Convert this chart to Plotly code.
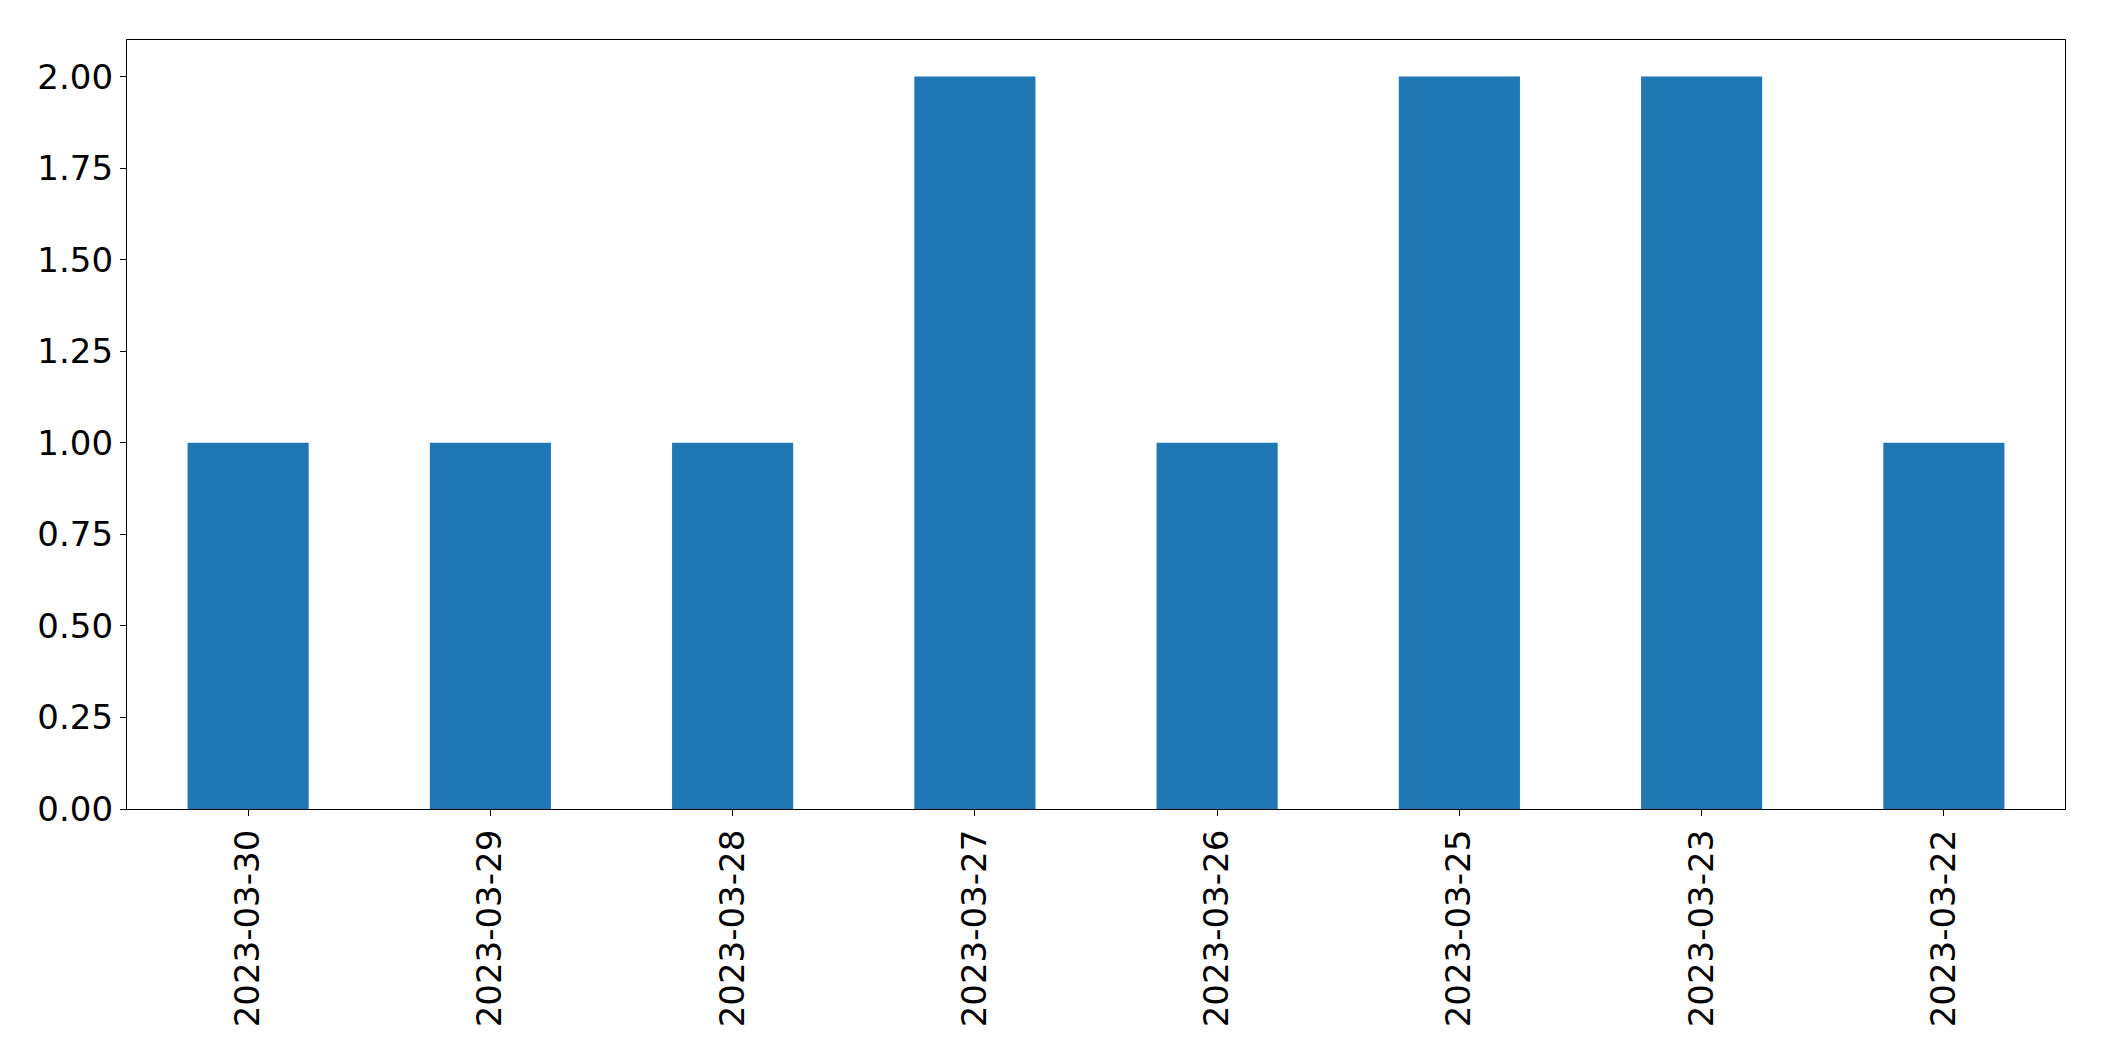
import plotly.graph_objects as go

categories = ["2023-03-30", "2023-03-29", "2023-03-28", "2023-03-27",
              "2023-03-26", "2023-03-25", "2023-03-23", "2023-03-22"]
values = [1, 1, 1, 2, 1, 2, 2, 1]
y_ticks = [0, 0.25, 0.5, 0.75, 1.0, 1.25, 1.5, 1.75, 2.0]
y_tick_labels = ["0.00", "0.25", "0.50", "0.75", "1.00", "1.25", "1.50", "1.75", "2.00"]

fig = go.Figure(go.Bar(x=categories, y=values, width=0.5, marker_color="#1f77b4",
                       marker_line_width=0))

axis_common = dict(showline=True, linecolor="black", linewidth=1.3, mirror=True,
                   ticks="outside", ticklen=6, tickwidth=1.3, tickcolor="black",
                   showgrid=False, zeroline=False, automargin=False,
                   tickfont=dict(family="DejaVu Sans", size=34, color="black"))

fig.update_xaxes(type="category", range=[-0.5, 7.5], tickangle=-90, **axis_common)
fig.update_yaxes(range=[0, 2.1], tickvals=y_ticks, ticktext=y_tick_labels, **axis_common)

# page body has an 8px default margin, so margins are shifted accordingly
fig.update_layout(width=2104, height=1061, margin=dict(l=119, r=47, t=32, b=260),
                  plot_bgcolor="white", paper_bgcolor="white", showlegend=False,
                  bargap=0.5)

fig.write_html("out.html")
